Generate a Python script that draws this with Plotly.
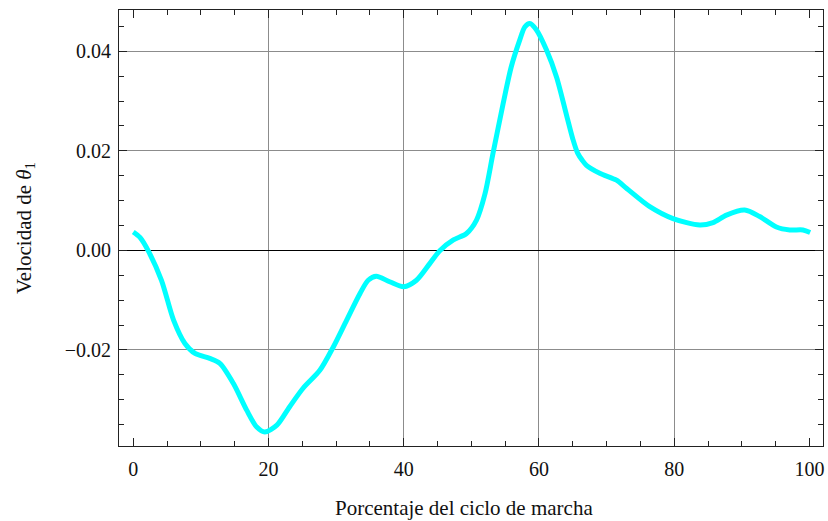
import plotly.graph_objects as go

# Data
percent = [0, 0.99, 2.18, 4.17, 5.96, 7.64, 9.13, 11.31, 12.8, 14.79, 16.77, 18.26,
           19.45, 21.24, 23.13, 25.11, 27.59, 29.58, 31.56, 33.55, 34.74, 35.93,
           37.91, 40.0, 41.88, 43.87, 45.36, 47.34, 49.28, 50.76, 52.0, 53.2, 54.7,
           55.9, 57.16, 57.9, 58.64, 59.63, 61.1, 62.6, 64.07, 65.0, 65.7, 66.4,
           67.02, 68.99, 71.46, 72.93, 76.38, 79.82, 83.77, 85.74, 87.72, 90.42,
           92.64, 95.11, 97.07, 99.04, 100.1]
velocity = [0.0037, 0.0026, 0.0, -0.006, -0.014, -0.0187, -0.0207, -0.0217, -0.0227,
            -0.0267, -0.0321, -0.0355, -0.0365, -0.0351, -0.0314, -0.0277, -0.0241,
            -0.0194, -0.014, -0.0086, -0.0060, -0.0052, -0.0063, -0.0073, -0.006,
            -0.0026, 0.0, 0.0021, 0.0034, 0.0061, 0.0113, 0.0195, 0.0295, 0.0369,
            0.0423, 0.0449, 0.0456, 0.0443, 0.0403, 0.0348, 0.0272, 0.0224, 0.0196,
            0.0181, 0.0171, 0.0155, 0.0141, 0.0125, 0.0088, 0.0064, 0.0051, 0.0056,
            0.0071, 0.0081, 0.0068, 0.0047, 0.0041, 0.0041, 0.0036]

x_ticks = [0, 20, 40, 60, 80, 100]
x_grid = [20, 40, 60, 80]
y_ticks = [-0.02, 0.0, 0.02, 0.04]
y_labels = ["\u22120.02", "0.00", "0.02", "0.04"]

x_range = [-2.11, 102.0]
y_range = [-0.0393, 0.0483]

FONT = "Liberation Serif, Times New Roman, serif"
GRID = "#8c8c8c"
AX = "#222222"
TXT = "#111111"

fig = go.Figure()
fig.add_trace(go.Scatter(
    x=percent, y=velocity, mode="lines",
    line=dict(color="#00FFFF", width=5, shape="spline", smoothing=0.8),
    hoverinfo="skip", showlegend=False,
))
# empty trace anchoring the overlay x axis (ticks, labels, frame)
fig.add_trace(go.Scatter(x=[None], y=[None], xaxis="x2", yaxis="y",
                         mode="lines", showlegend=False, hoverinfo="skip"))

fig.update_layout(
    width=828, height=521,
    margin=dict(l=119, r=5, t=10, b=75),
    paper_bgcolor="white", plot_bgcolor="white",
    font=dict(family=FONT, size=20, color=TXT),
    xaxis=dict(
        range=x_range, showgrid=True, gridcolor=GRID, gridwidth=1,
        tickmode="array", tickvals=x_grid, showticklabels=False, ticks="",
        zeroline=False, showline=False,
    ),
    xaxis2=dict(
        range=x_range, overlaying="x", side="bottom", showgrid=False, zeroline=False,
        tickmode="array", tickvals=x_ticks, ticktext=[str(v) for v in x_ticks],
        ticks="inside", ticklen=8, tickwidth=1, tickcolor=AX,
        minor=dict(dtick=5, tick0=0, ticks="inside", ticklen=5, tickwidth=1,
                   tickcolor=AX, showgrid=False),
        showline=True, linecolor=AX, linewidth=1, mirror="ticks",
        tickfont=dict(family=FONT, size=20, color=TXT),
        ticklabelstandoff=5,
    ),
    yaxis=dict(
        range=y_range, showgrid=True, gridcolor=GRID, gridwidth=1,
        tickmode="array", tickvals=y_ticks, ticktext=y_labels,
        zeroline=True, zerolinecolor="#000000", zerolinewidth=1,
        ticks="inside", ticklen=8, tickwidth=1, tickcolor=AX,
        minor=dict(dtick=0.005, tick0=0, ticks="inside", ticklen=5, tickwidth=1,
                   tickcolor=AX, showgrid=False),
        showline=True, linecolor=AX, linewidth=1, mirror="ticks",
        tickfont=dict(family=FONT, size=20, color=TXT),
        ticklabelstandoff=3,
    ),
    annotations=[
        dict(text="Porcentaje del ciclo de marcha", xref="paper", yref="paper",
             x=0.49, y=-0.142, xanchor="center", yanchor="middle", showarrow=False,
             font=dict(family=FONT, size=21, color=TXT)),
        dict(text="Velocidad de <i>\u03b8</i><sub>1</sub>", xref="paper", yref="paper",
             x=-0.1335, y=0.5, xanchor="center", yanchor="middle", showarrow=False,
             textangle=-90, font=dict(family=FONT, size=21, color=TXT)),
    ],
)

fig.write_html(
    "out.html",
    config={"displayModeBar": False},
    post_script="document.body.style.margin='0';document.body.style.overflow='hidden';",
)
